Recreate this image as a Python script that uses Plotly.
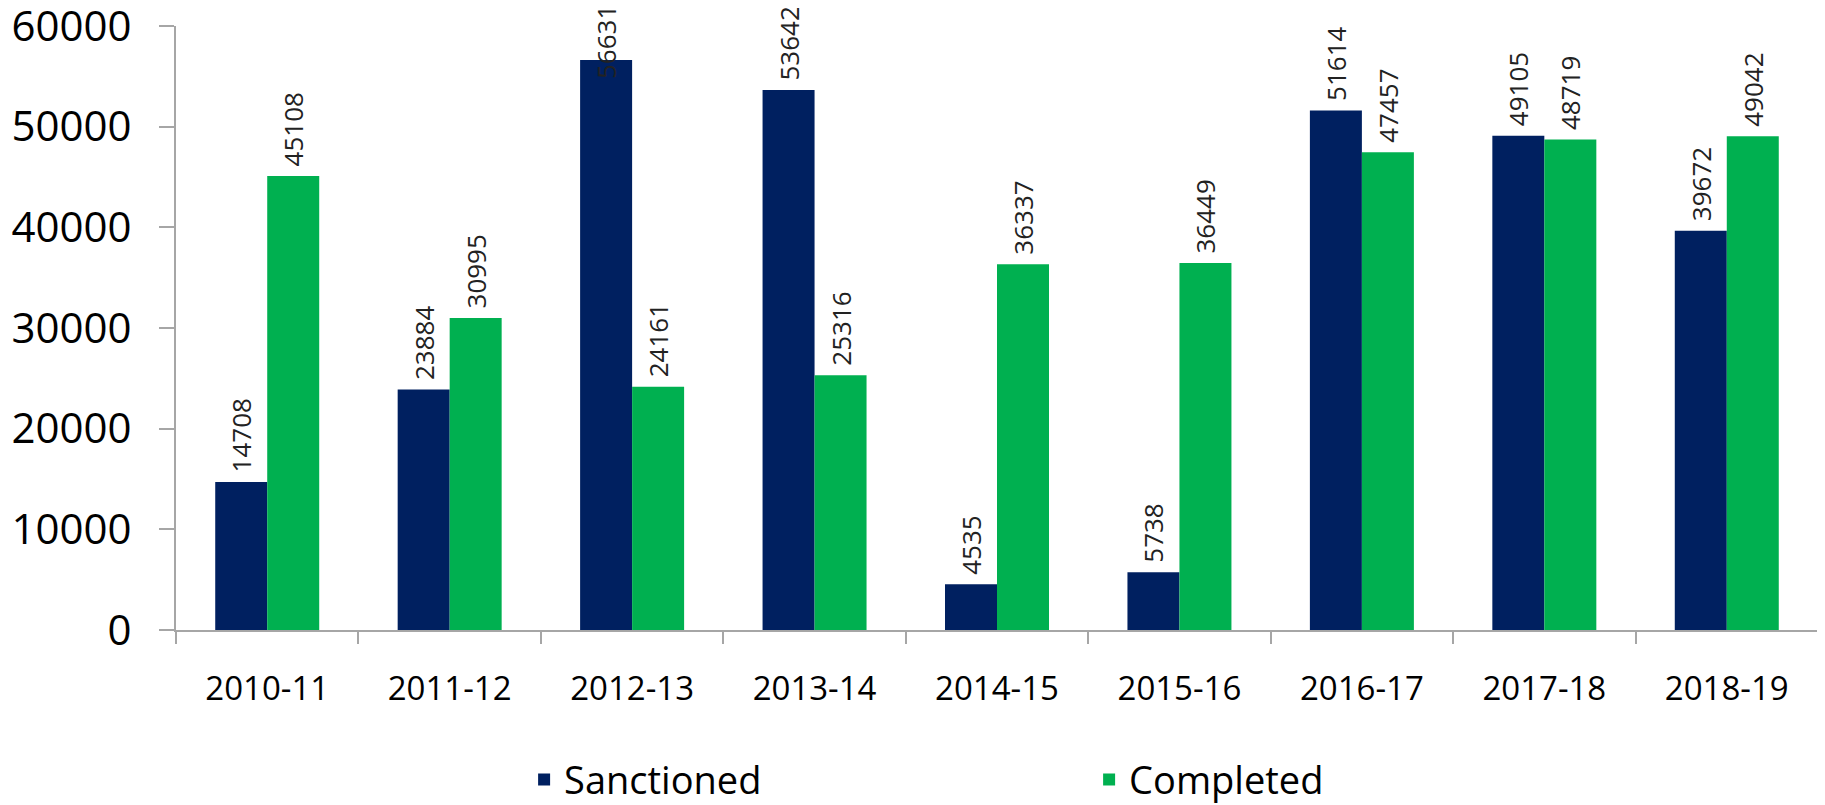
import plotly.graph_objects as go

years = ['2010-11', '2011-12', '2012-13', '2013-14', '2014-15', '2015-16', '2016-17', '2017-18', '2018-19']
sanctioned = [14708, 23884, 56631, 53642, 4535, 5738, 51614, 49105, 39672]
completed = [45108, 30995, 24161, 25316, 36337, 36449, 47457, 48719, 49042]

navy = '#002060'
green = '#00B050'
axis_grey = '#A6A6A6'
font_family = 'Open Sans'
label_size = 26
bargap = 0.43
y_max = 60000
too_tall = 55000  # labels above this don't fit over the bar, Excel pulls them down

fig = go.Figure()
series = [('Sanctioned', sanctioned, navy), ('Completed', completed, green)]
for k, (name, vals, col) in enumerate(series):
    # small leading space keeps the rotated label a bit above the bar, like Excel does
    labels = ['' if v > too_tall else '\u2005' + str(v) for v in vals]
    fig.add_trace(go.Bar(x=years, y=vals, name=name, marker_color=col, marker_line_width=0,
                         text=labels, textposition='outside', textangle=-90, constraintext='none',
                         textfont=dict(size=label_size, color='#222', family=font_family),
                         cliponaxis=False))
    offset = (k - 0.5) * (1 - bargap) / 2
    for i, v in enumerate(vals):
        if v > too_tall:
            fig.add_annotation(x=i + offset, y=v, text=str(v), showarrow=False, textangle=-90,
                               yanchor='middle', yshift=18,
                               font=dict(size=label_size, color='#222', family=font_family))

# page body has an 8px margin, so the figure is 8px smaller than the window
fig.update_layout(
    width=1817, height=797,
    margin=dict(l=168, r=7, t=18, b=175, autoexpand=False),
    paper_bgcolor='white', plot_bgcolor='white',
    barmode='group', bargap=bargap, bargroupgap=0,
    font=dict(family=font_family, color='black'),
    legend=dict(orientation='h', x=0.212, xanchor='left', y=-0.248, yanchor='middle',
                font=dict(size=38, family=font_family), entrywidth=520),
)
fig.update_yaxes(range=[0, y_max], dtick=10000, ticklabeloverflow='allow',
                 tickformat='d', showgrid=False, zeroline=False,
                 showline=True, linecolor=axis_grey, linewidth=2,
                 ticks='outside', ticklen=15, tickcolor=axis_grey, tickwidth=2,
                 tickfont=dict(size=42), ticklabelstandoff=19)
fig.update_xaxes(type='category', showgrid=False, showline=True, linecolor=axis_grey, linewidth=2,
                 ticks='outside', tickson='boundaries', ticklen=12, tickcolor=axis_grey, tickwidth=2,
                 tickfont=dict(size=33), ticklabelstandoff=28)

fig.write_html("out.html")
